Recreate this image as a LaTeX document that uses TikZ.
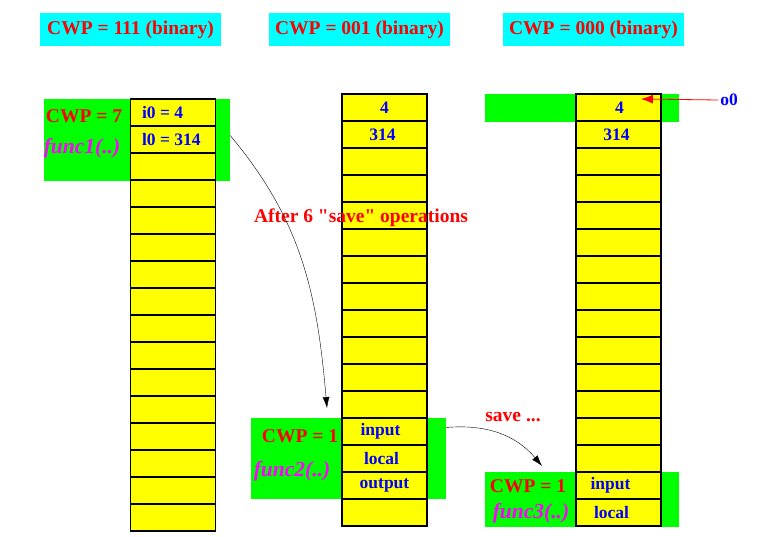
\documentclass[tikz,border=0pt]{standalone}
\usepackage{fontspec}
\setmainfont{Liberation Serif}
\usepackage{tikz}
\usetikzlibrary{arrows.meta, positioning}
\definecolor{wincyan}{RGB}{0, 255, 255}
\definecolor{wingreen}{RGB}{0, 255, 0}
\definecolor{winyellow}{RGB}{255, 255, 0}
\definecolor{winred}{RGB}{255, 0, 0}
\definecolor{winblue}{RGB}{0, 0, 255}
\definecolor{winmagenta}{RGB}{255, 0, 255}

\begin{document}
\begin{tikzpicture}[x=1pt, y=-1pt,
  cell/.style={draw=black, line width=1.2pt, fill=winyellow, minimum width=85pt, minimum height=27pt, inner sep=0pt},
  celltext/.style={text=winblue, font=\bfseries\fontsize{17.5}{18}\selectfont, inner sep=0pt},
  title/.style={fill=wincyan, text=winred, minimum width=181pt, minimum height=33pt, inner sep=0pt, font=\bfseries\fontsize{19.5}{20}\selectfont},
  frame/.style={fill=wingreen, inner sep=0pt},
  cwp/.style={text=winred, font=\bfseries\fontsize{19.5}{20}\selectfont, inner sep=0pt},
  func/.style={text=winmagenta, font=\bfseries\itshape\fontsize{21.5}{22}\selectfont, inner sep=0pt},
  note/.style={text=winred, font=\bfseries\fontsize{19.5}{20}\selectfont, inner sep=0pt}]
  \useasboundingbox (0,0) rectangle (765,537);

  % Titles
  \node[title] (t1) at (130.5,29.5) {CWP = 111 (binary)};
  \node[title] (t2) at (359.5,29.5) {CWP = 001 (binary)};
  \node[title] (t3) at (593.5,29.5) {CWP = 000 (binary)};

  % Window frames
  \node[frame, minimum width=186pt, minimum height=82pt] (g1) at (137,140) {};
  \node[frame, minimum width=195pt, minimum height=81pt] (g2) at (348.5,458.5) {};
  \node[frame, minimum width=194pt, minimum height=28pt] (g3top) at (582,108) {};
  \node[frame, minimum width=194pt, minimum height=55pt] (g3) at (582,499.5) {};

  % Register stacks
  \foreach \i in {0,...,15} {
    \node[cell] (c1-\i) at (173,112.5+27*\i) {};
    \node[cell] (c2-\i) at (384.5,107.5+27*\i) {};
    \node[cell] (c3-\i) at (618.5,107.5+27*\i) {};
  }

  % Cell contents
  \node[celltext, anchor=west] at ([xshift=12pt]c1-0.west) {i0 = 4};
  \node[celltext, anchor=west] at ([xshift=12pt]c1-1.west) {l0 = 314};
  \node[celltext] at (c2-0) {4};
  \node[celltext] at ([xshift=-2pt]c2-1) {314};
  \node[celltext] at ([xshift=-4pt]c2-12) {input};
  \node[celltext] at ([xshift=-3pt]c2-13) {local};
  \node[celltext] at (c2-14) {output};
  \node[celltext] at ([xshift=1pt]c3-0) {4};
  \node[celltext] at ([xshift=-2pt]c3-1) {314};
  \node[celltext] at ([xshift=-8pt]c3-14) {input};
  \node[celltext] at ([xshift=-7pt]c3-15) {local};

  % Window labels
  \node[cwp] at (84,116) {CWP = 7};
  \node[func] at (82,148) {func1(..)};
  \node[cwp] at (300,436) {CWP = 1};
  \node[func] at (292,471) {func2(..)};
  \node[cwp] at (528,486) {CWP = 1};
  \node[func] at (531,513) {func3(..)};

  % Notes
  \node[note] (n1) at (361,218) {After 6 \textquotedbl save\textquotedbl{} operations};
  \node[note] (n2) at (513,417) {save ...};
  \node[celltext] (o0) at (729,100) {o0};

  % Arrows
  \coordinate (a1end) at (327,408);
  \coordinate (a2end) at (542,466);
  \coordinate (o0tip) at (641,99);
  \draw[-{Latex[length=11pt,width=7pt]}] ([yshift=4pt]g1.east |- c1-1) to[out=-50,in=95] (a1end);
  \draw[-{Latex[length=11pt,width=7pt]}] ([yshift=4pt]g2.east |- c2-12) to[out=5,in=130] (a2end);
  \draw[winred, thick, -{Latex[length=12pt,width=9pt]}] ([xshift=-2pt]o0.west) -- (o0tip);
\end{tikzpicture}
\end{document}
